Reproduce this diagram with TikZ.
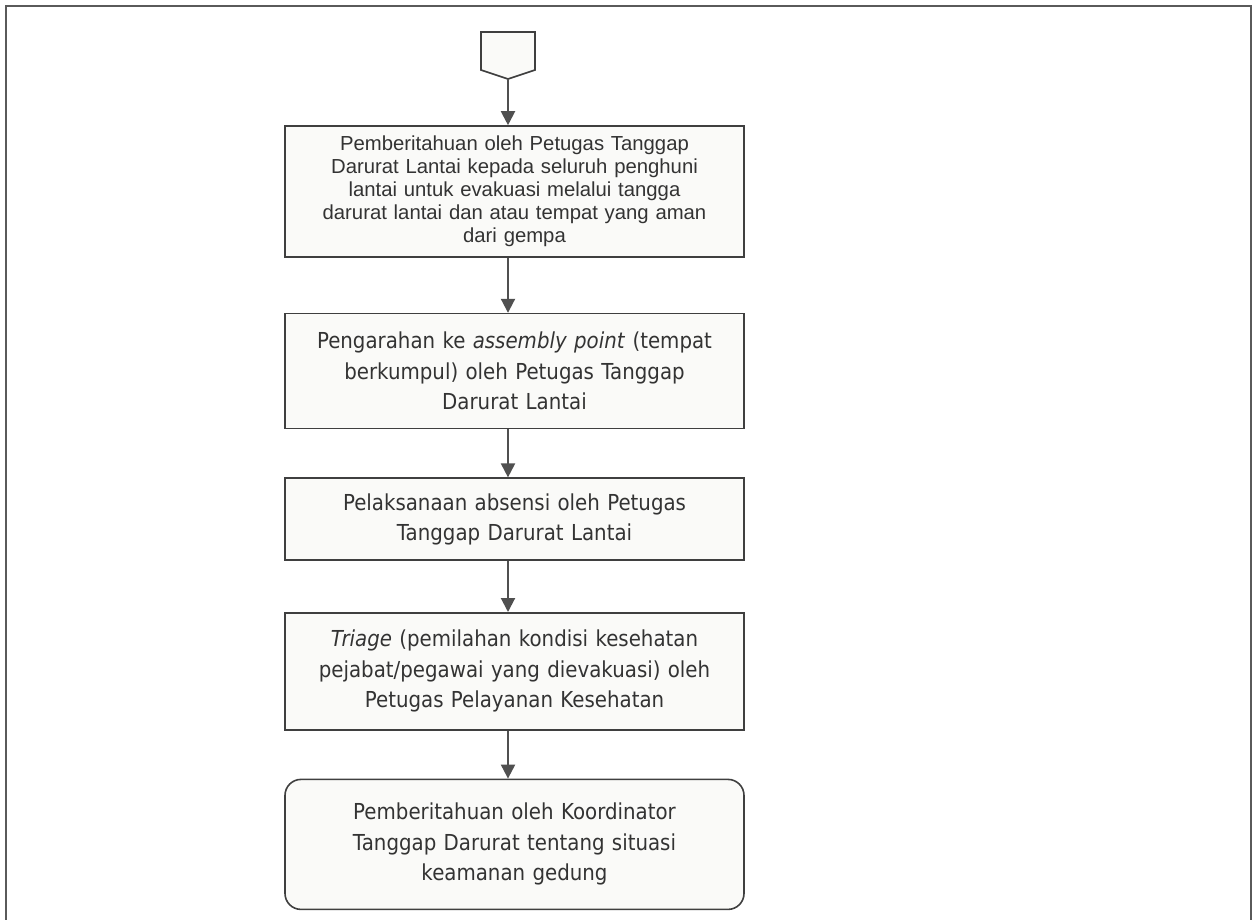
\documentclass[tikz,border=0pt]{standalone}
\usepackage{fontspec}
\setmainfont{Liberation Sans}
\newfontfamily\tahoma[FakeStretch=0.9]{DejaVu Sans}
\usetikzlibrary{arrows.meta,positioning}
\definecolor{boxline}{HTML}{3F3F3F}
\definecolor{boxfill}{HTML}{FAFAF8}
\definecolor{flowgray}{HTML}{505050}
\definecolor{textgray}{HTML}{333333}
\definecolor{framegray}{HTML}{5A5A5A}

\begin{document}
\begin{tikzpicture}[x=1pt,y=-1pt, every node/.style={align=center,text=textgray},
  procbox/.style={draw=boxline,line width=1.6pt,fill=boxfill,minimum width=459pt,text width=450pt,inner sep=0pt},
  arialtext/.style={font=\fontsize{20.3}{23}\selectfont},
  tahtext/.style={font=\tahoma\fontsize{22}{30.5}\selectfont},
  flow/.style={-{Triangle[length=14pt,width=14pt]},line width=2pt,flowgray}]
  \useasboundingbox (0,0) rectangle (1255,919);
  % outer frame
  \draw[framegray,line width=1.5pt] (6,930) -- (6,6) -- (1251,6) -- (1251,930);
  % off-page connector
  \draw[boxline,line width=1.6pt,fill=boxfill] (481,32) -- (535,32) -- (535,70) -- (508,79) -- (481,70) -- cycle;
  \coordinate (start) at (508,79);
  \node[procbox,arialtext,minimum height=131pt] (notice) at (514.5,191.5) {Pemberitahuan oleh Petugas Tanggap\\Darurat Lantai kepada seluruh penghuni\\lantai untuk evakuasi melalui tangga\\darurat lantai dan atau tempat yang aman\\dari gempa};
  \node[procbox,tahtext,minimum height=115pt,below=55pt of notice] (assembly) {Pengarahan ke \textit{assembly point} (tempat\\berkumpul) oleh Petugas Tanggap\\Darurat Lantai};
  \node[procbox,tahtext,minimum height=82pt,below=48pt of assembly] (absence) {Pelaksanaan absensi oleh Petugas\\Tanggap Darurat Lantai};
  \node[procbox,tahtext,minimum height=117pt,below=51pt of absence] (triage) {\textit{Triage} (pemilahan kondisi kesehatan\\pejabat/pegawai yang dievakuasi) oleh\\Petugas Pelayanan Kesehatan};
  \node[procbox,tahtext,rounded corners=16pt,minimum height=130pt,below=48pt of triage] (report) {Pemberitahuan oleh Koordinator\\Tanggap Darurat tentang situasi\\keamanan gedung};
  \draw[flow] (start) -- (start |- notice.north);
  \draw[flow] (notice.south -| start) -- (assembly.north -| start);
  \draw[flow] (assembly.south -| start) -- (absence.north -| start);
  \draw[flow] (absence.south -| start) -- (triage.north -| start);
  \draw[flow] (triage.south -| start) -- (report.north -| start);
\end{tikzpicture}
\end{document}
